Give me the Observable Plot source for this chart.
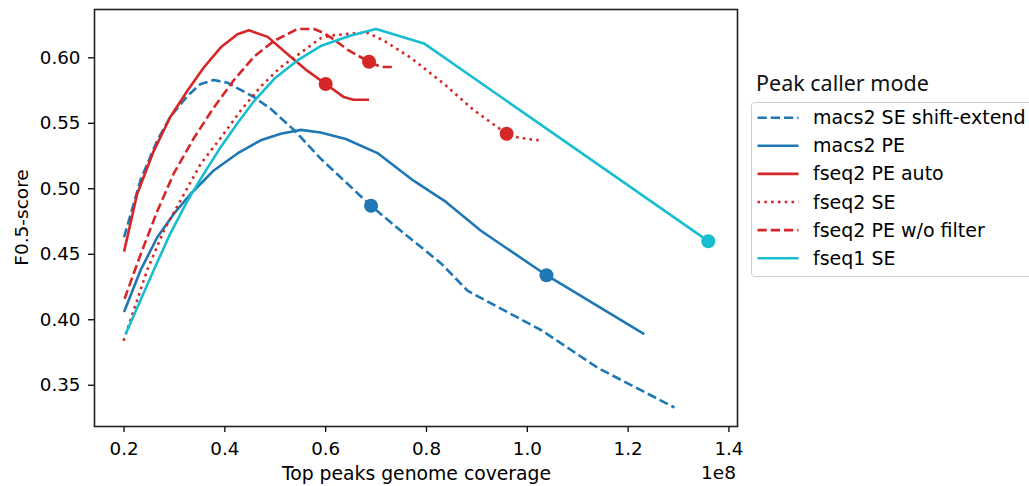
<!DOCTYPE html>
<html>
<head>
<meta charset="utf-8">
<script src="https://cdn.jsdelivr.net/npm/d3@7"></script>
<script src="https://cdn.jsdelivr.net/npm/@observablehq/plot@0.6"></script>
<style>
  html, body { margin: 0; padding: 0; background: #fff; }
  #chart { width: 1029px; height: 486px; }
</style>
</head>
<body>
<div id="chart"></div>
<script>
// Series names, colors, dash styles (legend order)
const seriesNames = ["macs2 SE shift-extend", "macs2 PE", "fseq2 PE auto", "fseq2 SE", "fseq2 PE w/o filter", "fseq1 SE"];
const seriesColors = ["#1f77b4", "#1f77b4", "#d62728", "#d62728", "#d62728", "#17becf"];
const seriesDash = ["9.25,4", null, null, "2.6,4.2", "9.25,4", null];

// x values in units of 1e8 (top peaks genome coverage), y = F0.5-score
const macs2SE_x = [0.200, 0.233, 0.266, 0.292, 0.326, 0.352, 0.378, 0.405, 0.458, 0.491, 0.537, 0.590, 0.690, 0.749, 0.829, 0.882, 1.028, 1.141, 1.292];
const macs2SE_y = [0.463, 0.507, 0.537, 0.555, 0.571, 0.580, 0.583, 0.581, 0.570, 0.561, 0.545, 0.523, 0.487, 0.468, 0.443, 0.422, 0.392, 0.363, 0.333];

const macs2PE_x = [0.200, 0.233, 0.266, 0.299, 0.332, 0.378, 0.425, 0.471, 0.511, 0.551, 0.590, 0.640, 0.704, 0.775, 0.835, 0.908, 1.038, 1.232];
const macs2PE_y = [0.406, 0.438, 0.463, 0.481, 0.496, 0.514, 0.527, 0.537, 0.542, 0.545, 0.543, 0.538, 0.527, 0.506, 0.491, 0.468, 0.434, 0.389];

const fseq2Auto_x = [0.200, 0.226, 0.259, 0.292, 0.326, 0.359, 0.392, 0.425, 0.448, 0.485, 0.524, 0.564, 0.600, 0.636, 0.655, 0.686];
const fseq2Auto_y = [0.452, 0.496, 0.529, 0.555, 0.575, 0.593, 0.608, 0.618, 0.621, 0.616, 0.603, 0.590, 0.580, 0.570, 0.568, 0.568];

const fseq2SE_x = [0.199, 0.246, 0.279, 0.319, 0.352, 0.392, 0.432, 0.471, 0.511, 0.551, 0.590, 0.610, 0.664, 0.684, 0.716, 0.769, 0.835, 0.894, 0.959, 0.983, 1.023];
const fseq2SE_y = [0.384, 0.438, 0.468, 0.496, 0.519, 0.539, 0.560, 0.578, 0.593, 0.604, 0.615, 0.617, 0.619, 0.619, 0.613, 0.600, 0.580, 0.560, 0.542, 0.539, 0.537];

const fseq2NoFilt_x = [0.201, 0.233, 0.266, 0.299, 0.339, 0.378, 0.418, 0.458, 0.498, 0.544, 0.577, 0.596, 0.620, 0.644, 0.686, 0.710, 0.739];
const fseq2NoFilt_y = [0.416, 0.450, 0.483, 0.512, 0.539, 0.562, 0.583, 0.601, 0.613, 0.622, 0.622, 0.619, 0.613, 0.606, 0.597, 0.593, 0.593];

const fseq1SE_x = [0.203, 0.259, 0.292, 0.326, 0.359, 0.392, 0.425, 0.458, 0.498, 0.544, 0.590, 0.650, 0.700, 0.795, 1.359];
const fseq1SE_y = [0.389, 0.438, 0.466, 0.491, 0.512, 0.532, 0.550, 0.567, 0.584, 0.598, 0.609, 0.617, 0.622, 0.611, 0.460];

// highlighted (default) points per series
const markX = [0.690, 1.038, 0.600, 0.959, 0.686, 1.359];
const markY = [0.487, 0.434, 0.580, 0.542, 0.597, 0.460];

const xTicks = [0.2, 0.4, 0.6, 0.8, 1.0, 1.2, 1.4];
const yTicks = [0.35, 0.40, 0.45, 0.50, 0.55, 0.60];

const xs = [macs2SE_x, macs2PE_x, fseq2Auto_x, fseq2SE_x, fseq2NoFilt_x, fseq1SE_x];
const ys = [macs2SE_y, macs2PE_y, fseq2Auto_y, fseq2SE_y, fseq2NoFilt_y, fseq1SE_y];

const W = 1029, H = 486;
const mL = 94, mR = 292, mT = 9, mB = 60;

const lineMarks = seriesNames.map((name, i) => {
  const data = xs[i].map((x, j) => ({x, y: ys[i][j]}));
  return Plot.line(data, {
    x: "x", y: "y",
    stroke: seriesColors[i],
    strokeWidth: 2.6,
    strokeDasharray: seriesDash[i] || undefined,
    strokeLinecap: "butt",
    strokeLinejoin: "round"
  });
});

const markData = seriesNames.map((name, i) => ({name, x: markX[i], y: markY[i], c: seriesColors[i]}));

const plot = Plot.plot({
  width: W, height: H,
  marginLeft: mL, marginRight: mR, marginTop: mT, marginBottom: mB,
  style: {fontFamily: "DejaVu Sans", fontSize: "18px", color: "#000", background: "#fff"},
  x: {domain: [0.1414, 1.417]},
  y: {domain: [0.3185, 0.6369]},
  marks: [
    ...lineMarks,
    Plot.dot(markData, {x: "x", y: "y", r: 7, fill: "c", stroke: "none"}),
    Plot.axisX({ticks: xTicks, tickFormat: d3.format(".1f"), tickSize: 6, tickPadding: 9, label: null, fontSize: 18.3, strokeWidth: 1.3}),
    Plot.axisY({ticks: yTicks, tickFormat: d3.format(".2f"), tickSize: 6, tickPadding: 8, label: null, fontSize: 18.3, strokeWidth: 1.3}),
    Plot.frame({stroke: "#222", strokeWidth: 1.6})
  ]
});

document.getElementById("chart").appendChild(plot);

const svg = d3.select(plot);
svg.style("overflow", "visible");

// Axis titles
svg.append("text")
  .attr("x", (mL + (W - mR)) / 2 + 1).attr("y", 480)
  .attr("text-anchor", "middle")
  .attr("font-family", "DejaVu Sans").attr("font-size", 18.8).attr("fill", "#000")
  .text("Top peaks genome coverage");
svg.append("text")
  .attr("x", W - mR - 1).attr("y", 479)
  .attr("text-anchor", "end")
  .attr("font-family", "DejaVu Sans").attr("font-size", 18.5).attr("fill", "#000")
  .text("1e8");
svg.append("text")
  .attr("transform", `translate(28, ${(mT + H - mB) / 2}) rotate(-90)`)
  .attr("text-anchor", "middle")
  .attr("font-family", "DejaVu Sans").attr("font-size", 18.5).attr("fill", "#000")
  .text("F0.5-score");

// Legend
const lg = svg.append("g").attr("text-anchor", "start");
lg.append("text")
  .attr("x", 756).attr("y", 91)
  .attr("text-anchor", "start")
  .attr("font-family", "Noto Sans").attr("font-size", 21.5).attr("fill", "#111")
  .text("Peak caller mode");
lg.append("rect")
  .attr("x", 751.5).attr("y", 102.5).attr("width", 300).attr("height", 174)
  .attr("rx", 3).attr("fill", "#fff").attr("stroke", "#cfcfcf").attr("stroke-width", 1);
seriesNames.forEach((name, i) => {
  const cy = 117.7 + i * 28.1;
  lg.append("line")
    .attr("x1", 757.5).attr("x2", 798.5).attr("y1", cy).attr("y2", cy)
    .attr("stroke", seriesColors[i]).attr("stroke-width", 2.6)
    .attr("stroke-dasharray", seriesDash[i] || null);
  lg.append("text")
    .attr("x", 813).attr("y", cy + 6.5)
    .attr("text-anchor", "start")
    .attr("font-family", "DejaVu Sans").attr("font-size", 19).attr("fill", "#000")
    .text(name);
});
</script>
</body>
</html>
